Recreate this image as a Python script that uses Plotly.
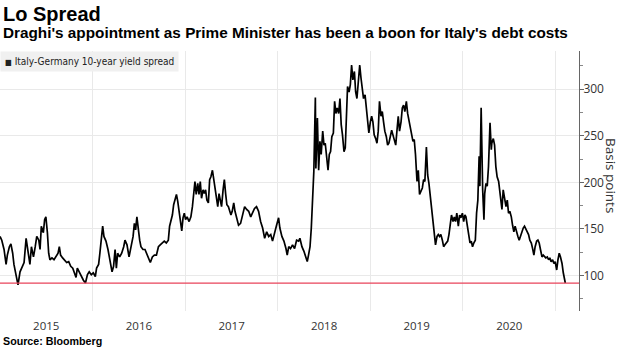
import pandas as pd
import plotly.graph_objects as go

# Italy-Germany 10-year government bond yield spread, basis points
START = "2015-01-01"
days_since_start = [
    0, 7, 16, 24, 29, 37, 43, 50, 55, 63, 71, 79, 87, 95, 103, 110, 118, 124, 132, 139,
    145, 153, 158, 163, 171, 176, 181, 187, 192, 197, 205, 213, 221, 229, 234, 239, 247, 255, 263, 271,
    279, 287, 295, 300, 305, 313, 321, 329, 337, 345, 352, 360, 368, 376, 381, 389, 394, 400, 405, 410,
    418, 426, 434, 442, 448,
    454, 459, 464, 472, 480, 488, 493, 501, 509, 517, 525, 530, 535, 540, 546, 551, 556, 564, 572, 580,
    585, 593, 601, 609, 617, 625, 632, 640, 648, 656, 664, 669, 675, 680, 685, 690, 696, 701, 706, 711,
    717, 722, 727, 732, 738, 746, 753, 759, 764, 769, 774, 780, 785, 790, 795, 801, 806, 811, 816, 822,
    827, 832, 838, 843, 848, 853, 859, 864, 869, 874, 880, 885, 890, 895, 901, 906, 911, 916, 922, 927,
    941, 949, 957, 965, 973, 981, 989, 997, 1004, 1012, 1020, 1028, 1036, 1044, 1052, 1060, 1068, 1075, 1083, 1091,
    1099, 1104, 1112, 1120, 1128, 1133, 1139, 1146, 1154, 1162, 1170, 1178, 1183, 1191, 1199, 1207, 1212, 1217, 1223, 1228,
    1233, 1238, 1244, 1246, 1252, 1257, 1262, 1267, 1273, 1278, 1283, 1288, 1294, 1299, 1304, 1309, 1315, 1320, 1325, 1330,
    1336, 1341, 1346, 1351, 1357, 1362,
    1366, 1371, 1377, 1382, 1387, 1392, 1398, 1403, 1408, 1413, 1419, 1424, 1429, 1434, 1440, 1445, 1450, 1455, 1461, 1466,
    1471, 1476, 1482, 1487, 1492, 1497, 1503, 1508, 1513, 1518, 1524, 1529, 1534, 1540, 1545, 1550, 1555, 1561, 1566, 1571,
    1576, 1582, 1587, 1592, 1597, 1603, 1608, 1613, 1618, 1624, 1629, 1634, 1639, 1645, 1650, 1655, 1660, 1666, 1671, 1676,
    1682, 1687, 1692, 1697, 1703, 1708, 1713, 1718, 1724, 1729, 1734, 1739, 1745, 1750, 1755, 1760, 1766, 1771, 1776, 1781,
    1787, 1792, 1797, 1802, 1808, 1813, 1818, 1824, 1829, 1834,
    1838, 1843, 1848, 1854, 1859, 1864, 1869, 1875, 1880, 1885, 1890, 1893, 1898, 1901, 1904, 1909, 1912, 1917, 1922, 1927,
    1930, 1933, 1938, 1940, 1946, 1951, 1956, 1961, 1967, 1972, 1977, 1980, 1985, 1990, 1996, 2001, 2006, 2011, 2017, 2022,
    2027, 2032, 2038, 2043, 2048, 2054, 2059, 2064, 2069, 2075, 2080, 2085, 2090, 2096, 2101, 2106, 2111, 2117, 2122, 2127,
    2132, 2138, 2143, 2148, 2153, 2159, 2164, 2169, 2174, 2180, 2185, 2190, 2196, 2201, 2206, 2211, 2217, 2222, 2227, 2230,
]
spread_bp = [
    142, 138, 128, 112, 122, 131, 134, 124, 112, 101, 90, 104, 110, 114, 140, 128, 112, 131, 120, 131,
    142, 138, 128, 153, 146, 160, 163, 146, 124, 117, 119, 117, 120, 124, 131, 122, 119, 117, 114, 115,
    110, 108, 103, 98, 108, 103, 99, 95, 92, 101, 104, 101, 103, 99, 108, 112, 124, 138, 153, 142,
    137, 128, 117, 104, 110,
    128, 108, 124, 120, 124, 131, 138, 133, 120, 131, 142, 156, 149, 163, 146, 138, 131, 128, 128, 122,
    119, 114, 120, 122, 122, 131, 133, 135, 137, 135, 138, 153, 160, 165, 176, 181, 187, 180, 169, 160,
    148, 162, 167, 160, 163, 158, 163, 174, 192, 201, 187, 199, 187, 201, 183, 192, 188, 192, 181, 178,
    203, 206, 213, 203, 194, 185, 174, 188, 181, 174, 192, 203, 188, 176, 174, 169, 165, 169, 178, 169,
    154, 156, 165, 174, 171, 169, 163, 169, 172, 174, 169, 158, 151, 140, 147, 142, 144, 137, 147, 154,
    162, 151, 142, 137, 129, 122, 131, 129, 133, 129, 138, 137, 140, 131, 126, 120, 115, 122, 131, 151,
    179, 212, 291, 215, 269, 213, 244, 230, 255, 240, 242, 226, 213, 230, 233, 249, 253, 287, 274, 280,
    274, 290, 262, 251, 233, 237,
    280, 303, 297, 305, 326, 310, 319, 297, 290, 305, 326, 312, 297, 290, 294, 280, 269, 253, 265, 271,
    265, 251, 247, 242, 255, 287, 271, 276, 265, 255, 249, 240, 242, 251, 256, 251, 246, 240, 256, 271,
    255, 265, 280, 283, 276, 287, 274, 267, 262, 255, 244, 246, 230, 201, 213, 187, 190, 194, 203, 201,
    238, 208, 199, 187, 169, 154, 147, 133, 142, 144, 142, 144, 138, 131, 133, 135, 137, 144, 154, 165,
    158, 163, 158, 167, 153, 165, 162, 167, 158, 165,
    163, 154, 142, 135, 137, 131, 135, 138, 167, 181, 228, 196, 280, 217, 192, 160, 188, 199, 196, 217,
    235, 264, 235, 242, 247, 240, 217, 206, 201, 188, 181, 171, 192, 185, 174, 181, 167, 169, 163, 154,
    147, 153, 146, 142, 138, 144, 147, 151, 153, 149, 147, 144, 138, 135, 129, 122, 131, 137, 138, 135,
    128, 120, 122, 120, 119, 120, 117, 119, 115, 117, 113, 115, 106, 117, 124, 120, 113, 103, 94, 92,
]

dates = pd.Timestamp(START) + pd.to_timedelta(days_since_start, unit="D")
latest = spread_bp[-1]

fig = go.Figure()
fig.add_trace(go.Scatter(
    x=dates, y=spread_bp, mode="lines",
    line=dict(color="#000000", width=1.7),
    name="Italy-Germany 10-year yield spread",
    showlegend=False,
    hoverinfo="x+y",
))

# reference line at the latest reading
fig.add_shape(type="line", xref="paper", x0=0, x1=1, yref="y", y0=latest, y1=latest,
              line=dict(color="#e8435a", width=1.3), layer="above")

fig.update_layout(
    width=620, height=348,
    margin=dict(l=0, r=41, t=51, b=37),
    paper_bgcolor="#ffffff", plot_bgcolor="#ffffff",
    font=dict(family="Open Sans", color="#333333"),
    showlegend=False,
    xaxis=dict(
        type="date",
        range=["2015-01-01", "2021-04-03"],
        tick0="2015-01-01", dtick="M12", tickformat="%Y",
        ticklabelmode="period",
        ticklabelstandoff=6,
        showgrid=True, gridcolor="#e9e9e9", gridwidth=1,
        showline=False, zeroline=False, ticks="",
        tickfont=dict(family="Open Sans", size=11.5, color="#333333"),
    ),
    yaxis=dict(
        side="right",
        range=[62, 341],
        tickvals=[100, 150, 200, 250, 300],
        showgrid=True, gridcolor="#e9e9e9", gridwidth=1,
        zeroline=False,
        showline=True, linecolor="#666666", linewidth=1,
        ticks="outside", ticklen=4, tickcolor="#666666",
        ticklabelstandoff=-3,
        minor=dict(ticks="outside", tickvals=[75, 125, 175, 225, 275, 325],
                   ticklen=3, tickcolor="#888888", showgrid=False),
        tickfont=dict(family="Open Sans", size=12, color="#333333"),
    ),
)

# title block
fig.add_annotation(text="<b>Lo Spread</b>", xref="paper", yref="paper",
                   x=0, y=(311 - 14) / 260, xanchor="left", yanchor="middle",
                   showarrow=False, xshift=1,
                   font=dict(family="Liberation Sans", size=20, color="#000000"))
fig.add_annotation(text="<b>Draghi's appointment as Prime Minister has been a boon for Italy's debt costs</b>",
                   xref="paper", yref="paper",
                   x=0, y=(311 - 32) / 260, xanchor="left", yanchor="middle",
                   showarrow=False, xshift=1,
                   font=dict(family="Liberation Sans", size=15.3, color="#000000"))
fig.add_annotation(text="<b>Source: Bloomberg</b>", xref="paper", yref="paper",
                   x=0, y=(311 - 341) / 260, xanchor="left", yanchor="middle",
                   showarrow=False, xshift=1,
                   font=dict(family="Liberation Sans", size=10.7, color="#000000"))

# legend box
fig.add_annotation(
    text="<span style='font-size:8px'>\u25A0</span> Italy-Germany 10-year yield spread",
    xref="paper", yref="paper", x=0, y=1, xanchor="left", yanchor="top",
    showarrow=False, bgcolor="#f0f0f0", borderpad=4,
    font=dict(family="DejaVu Sans Condensed, Liberation Sans, sans-serif", size=10, color="#222222"),
)

# axis title on the right, reading downward
fig.add_annotation(text="Basis points", xref="paper", yref="paper",
                   x=611 / 579, y=(311 - 176) / 260, xanchor="center", yanchor="middle",
                   textangle=90, showarrow=False,
                   font=dict(family="Open Sans", size=13.5, color="#333333"))

fig.write_html("out.html")
